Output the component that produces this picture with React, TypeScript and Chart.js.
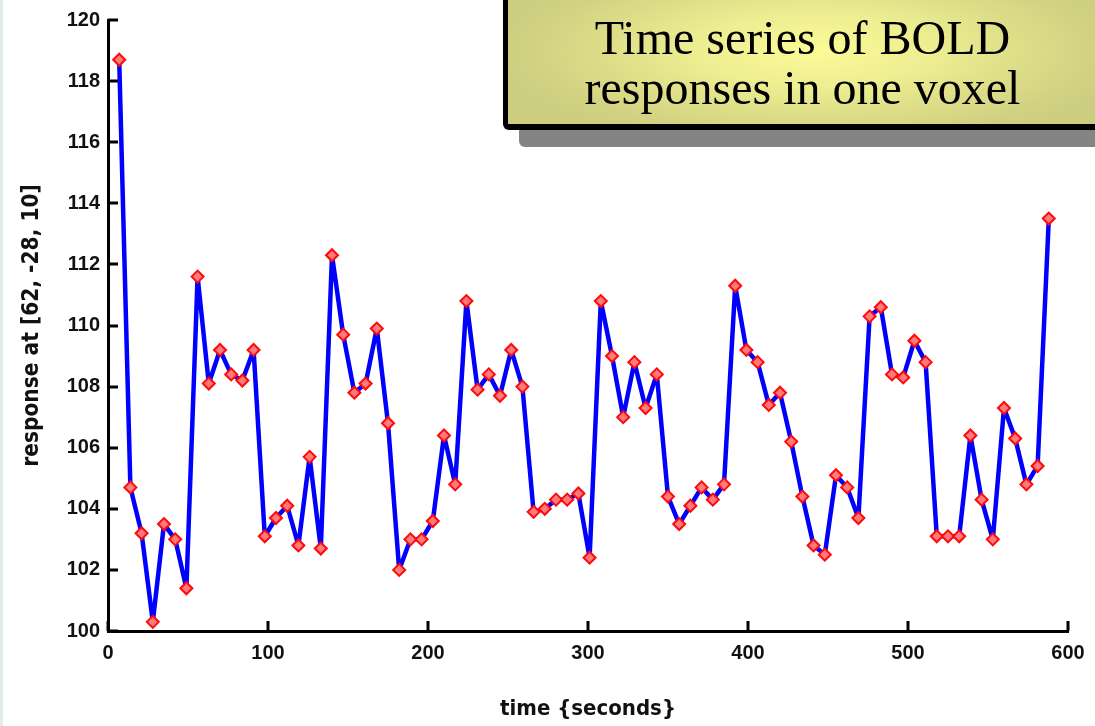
import React, { useEffect, useRef } from "react";
import { Chart, registerables } from "chart.js";

Chart.register(...registerables);

const times = [
  7, 14, 21, 28, 35, 42, 49, 56, 63, 70, 77, 84, 91, 98, 105, 112, 119, 126, 133, 140,
  147, 154, 161, 168, 175, 182, 189, 196, 203, 210, 217, 224, 231, 238, 245, 252, 259, 266, 273, 280,
  287, 294, 301, 308, 315, 322, 329, 336, 343, 350, 357, 364, 371, 378, 385, 392, 399, 406, 413, 420,
  427, 434, 441, 448, 455, 462, 469, 476, 483, 490, 497, 504, 511, 518, 525, 532, 539, 546, 553, 560,
  567, 574, 581, 588,
];

const responses = [
  118.7, 104.7, 103.2, 100.3, 103.5, 103.0, 101.4, 111.6, 108.1, 109.2,
  108.4, 108.2, 109.2, 103.1, 103.7, 104.1, 102.8, 105.7, 102.7, 112.3,
  109.7, 107.8, 108.1, 109.9, 106.8, 102.0, 103.0, 103.0, 103.6, 106.4,
  104.8, 110.8, 107.9, 108.4, 107.7, 109.2, 108.0, 103.9, 104.0, 104.3,
  104.3, 104.5, 102.4, 110.8, 109.0, 107.0, 108.8, 107.3, 108.4, 104.4,
  103.5, 104.1, 104.7, 104.3, 104.8, 111.3, 109.2, 108.8, 107.4, 107.8,
  106.2, 104.4, 102.8, 102.5, 105.1, 104.7, 103.7, 110.3, 110.6, 108.4,
  108.3, 109.5, 108.8, 103.1, 103.1, 103.1, 106.4, 104.3, 103.0, 107.3,
  106.3, 104.8, 105.4, 113.5,
];

const xRange = [0, 600];
const xStep = 100;
const yRange = [100, 120];
const yStep = 2;

const titleLines = ["Time series of BOLD", "responses in one voxel"];
const xTitle = "time {seconds}";
const yTitle = "response at [62, -28, 10]";

const TICKFONT = "'Liberation Sans', Arial, sans-serif";
const NARROW = "'DejaVu Sans Condensed', 'Liberation Sans', sans-serif";

const inwardTicks = {
  id: "inwardTicks",
  beforeDatasetsDraw(chart: any) {
    const { ctx, chartArea, scales } = chart;
    const x = scales.x;
    const y = scales.y;
    ctx.save();
    ctx.strokeStyle = "#000";
    ctx.lineWidth = 3;
    ctx.beginPath();
    x.ticks.forEach((t: any) => {
      const px = Math.round(x.getPixelForValue(t.value));
      ctx.moveTo(px, chartArea.bottom);
      ctx.lineTo(px, chartArea.bottom - 10);
    });
    y.ticks.forEach((t: any) => {
      const py = Math.round(y.getPixelForValue(t.value));
      ctx.moveTo(chartArea.left, py);
      ctx.lineTo(chartArea.left + 10, py);
    });
    ctx.stroke();
    ctx.restore();
  },
};

export default function App() {
  const canvasRef = useRef<HTMLCanvasElement | null>(null);

  useEffect(() => {
    const canvas = canvasRef.current;
    if (!canvas) return;
    const chart = new Chart(canvas, {
      type: "line",
      data: {
        datasets: [
          {
            data: times.map((t, i) => ({ x: t, y: responses[i] })),
            borderColor: "#0000ff",
            borderWidth: 4.5,
            borderJoinStyle: "round",
            borderCapStyle: "round",
            pointStyle: "rectRot",
            pointRadius: 6,
            pointBackgroundColor: "#ff7a7a",
            pointBorderColor: "#ff0a0a",
            pointBorderWidth: 2,
            tension: 0,
            fill: false,
            clip: false,
          } as any,
        ],
      },
      options: {
        responsive: false,
        animation: false,
        events: [],
        layout: { padding: { left: 0, right: 27, top: 17, bottom: 0 } },
        plugins: {
          legend: { display: false },
          tooltip: { enabled: false },
          title: { display: false },
        },
        scales: {
          x: {
            type: "linear",
            min: xRange[0],
            max: xRange[1],
            grid: { display: false, drawTicks: false },
            border: { display: true, color: "#000", width: 3 },
            ticks: {
              stepSize: xStep,
              color: "#111",
              padding: 10,
              maxRotation: 0,
              font: { family: TICKFONT, size: 20, weight: "bold" },
            },
            title: {
              display: true,
              text: xTitle,
              color: "#111",
              padding: { top: 0, bottom: 4 },
              font: { family: NARROW, size: 22, weight: "bold" },
            },
            afterFit: (s: any) => {
              s.height = 95;
            },
          },
          y: {
            type: "linear",
            min: yRange[0],
            max: yRange[1],
            grid: { display: false, drawTicks: false },
            border: { display: true, color: "#000", width: 3 },
            ticks: {
              stepSize: yStep,
              color: "#111",
              padding: 8,
              font: { family: TICKFONT, size: 20, weight: "bold" },
            },
            title: {
              display: true,
              text: yTitle,
              color: "#111",
              padding: { top: 19, bottom: 0 },
              font: { family: NARROW, size: 22.5, weight: "bold" },
            },
            afterFit: (s: any) => {
              s.width = 108;
            },
          },
        },
      },
      plugins: [inwardTicks],
    });
    return () => chart.destroy();
  }, []);

  return (
    <div
      style={{
        position: "fixed",
        left: 0,
        top: 0,
        width: 1095,
        height: 726,
        overflow: "hidden",
        background: "#ffffff",
      }}
    >
      <canvas
        ref={canvasRef}
        width={1095}
        height={726}
        style={{ position: "absolute", left: 0, top: 0, width: 1095, height: 726 }}
      />
      <div
        style={{
          position: "absolute",
          left: 0,
          top: 0,
          width: 3,
          height: 726,
          background: "#e2ece7",
        }}
      />
      <div
        style={{
          position: "absolute",
          left: 519,
          top: -10,
          width: 600,
          height: 157,
          background: "#848484",
          borderRadius: 6,
        }}
      />
      <div
        style={{
          position: "absolute",
          left: 503,
          top: -10,
          width: 589,
          height: 134,
          borderLeft: "5px solid #000",
          borderBottom: "6px solid #000",
          borderRight: "5px solid #000",
          borderRadius: 6,
          background:
            "radial-gradient(ellipse 55% 75% at 52% 45%, #fbfb98 0%, #eeee92 35%, #d2d282 85%, #cdcd80 100%)",
          fontFamily: "'Liberation Serif', 'Times New Roman', serif",
          fontSize: 48,
          lineHeight: "50px",
          color: "#000",
          textAlign: "center",
          boxSizing: "content-box",
        }}
      >
        <div style={{ paddingTop: 23 }}>
          {titleLines.map((l) => (
            <div key={l}>{l}</div>
          ))}
        </div>
      </div>
    </div>
  );
}
